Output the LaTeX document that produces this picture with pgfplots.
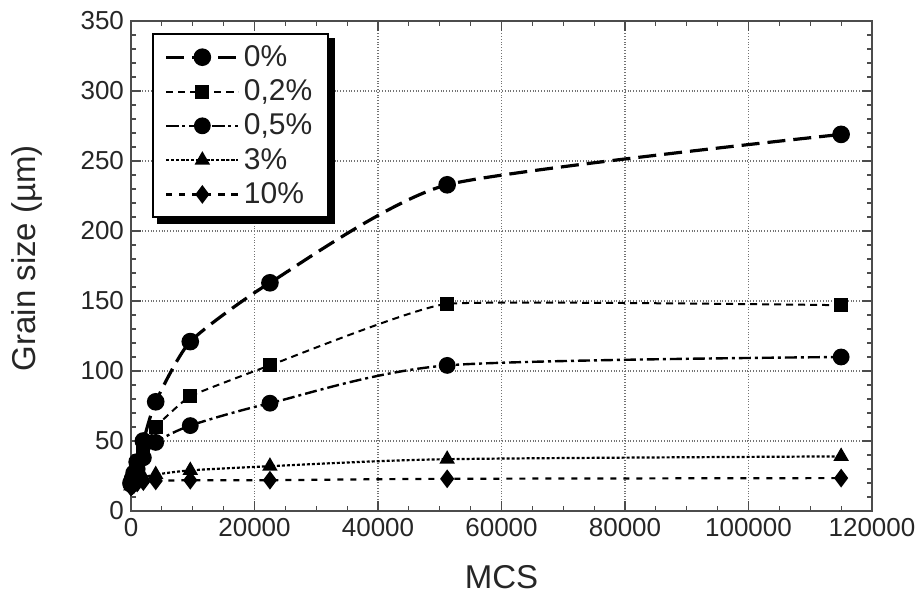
\documentclass[border=0pt]{standalone}
\usepackage{pgfplots}
\pgfplotsset{compat=1.18}
\usepackage{fontspec}
\setmainfont{Liberation Sans}
\begin{document}
\begin{tikzpicture}
\begin{axis}[
  scale only axis,
  width=370.5bp, height=245bp,
  xmin=0, xmax=120000, ymin=0, ymax=350,
  xtick={0,20000,...,120000},
  ytick={0,50,...,350},
  minor x tick num=3,
  minor y tick num=4,
  scaled x ticks=false,
  xticklabel style={/pgf/number format/fixed,/pgf/number format/1000 sep={}},
  /pgf/number format/assume math mode=true,
  tick align=inside,
  tick pos=both,
  major tick length=5bp,
  minor tick length=2.5bp,
  tick style={black!70, line width=0.6bp},
  axis line style={black!70, line width=0.8bp},
  grid=major,
  grid style={densely dotted, black!55, line width=0.8bp},
  ticklabel style={font=\fontsize{13bp}{15bp}\selectfont, text=black!85},
  xlabel={MCS},
  ylabel={Grain size (µm)},
  label style={font=\fontsize{16.5bp}{20bp}\selectfont, text=black!85},
  xlabel style={at={(axis description cs:0.5,-0.135)}, anchor=center},
  ylabel style={at={(axis description cs:-0.140,0.516)}, anchor=center, rotate=0},
  legend style={name=leg, at={(axis description cs:0.028,0.975)}, anchor=north west,
    draw=black, line width=1bp, fill=white,
    font=\fontsize{15bp}{17bp}\selectfont, text=black!85,
    row sep=1.2bp, inner xsep=6bp, inner ysep=3.5bp},
  legend cell align=left,
  legend image code/.code={\draw[mark repeat=2,mark phase=2] plot coordinates {(0bp,0bp) (18bp,0bp) (36bp,0bp)};},
  every axis plot/.append style={black, smooth, tension=0.45},
]
% 0%
\addplot[line width=1.6bp, tension=0.35, dash pattern=on 9bp off 4bp, mark=*, mark size=3.6bp, mark options={solid}]
  coordinates {(0,20) (250,23) (500,27) (1000,35) (2000,50) (4000,78) (9600,121) (22500,163) (51200,233) (115000,269)};
\addlegendentry{0\%}
% 0.2%
\addplot[line width=1bp, tension=0.2, dash pattern=on 3.5bp off 2.5bp, mark=square*, mark size=3bp, mark options={solid}]
  coordinates {(0,20) (250,22) (500,25) (1000,32) (2000,42) (4000,60) (9600,82) (22500,104) (51200,148) (115000,147)};
\addlegendentry{0,2\%}
% 0.5%
\addplot[line width=1.2bp, dash pattern=on 6bp off 2bp on 1.5bp off 2bp, mark=*, mark size=3.6bp, mark options={solid}]
  coordinates {(0,19) (250,21) (500,24) (1000,30) (2000,38) (4000,49) (9600,61) (22500,77) (51200,104) (115000,110)};
\addlegendentry{0,5\%}
% 3%
\addplot[line width=1.1bp, dash pattern=on 1.5bp off 1bp, mark=triangle*, mark size=3.4bp, mark options={solid}]
  coordinates {(0,18) (250,19) (500,21) (1000,23) (2000,24) (4000,26) (9600,29) (22500,32) (51200,37) (115000,39)};
\addlegendentry{3\%}
% 10%
\addplot[line width=1.1bp, dash pattern=on 3bp off 3.5bp, mark=diamond*, mark size=3.8bp, mark options={solid}]
  coordinates {(0,17) (250,18) (500,19) (1000,20) (2000,21) (4000,21.5) (9600,22) (22500,22) (51200,23) (115000,23.5)};
\addlegendentry{10\%}
\end{axis}
\fill[black] ([shift={(2.5bp,0bp)}]leg.south west) rectangle ([shift={(3bp,-3bp)}]leg.south east);
\fill[black] ([shift={(0bp,-2.5bp)}]leg.north east) rectangle ([shift={(3bp,-3bp)}]leg.south east);
\pgfresetboundingbox
\path ([shift={(-65.5bp,-41bp)}]current axis.south west) rectangle ([shift={(25bp,10.5bp)}]current axis.north east);
\end{tikzpicture}
\end{document}
